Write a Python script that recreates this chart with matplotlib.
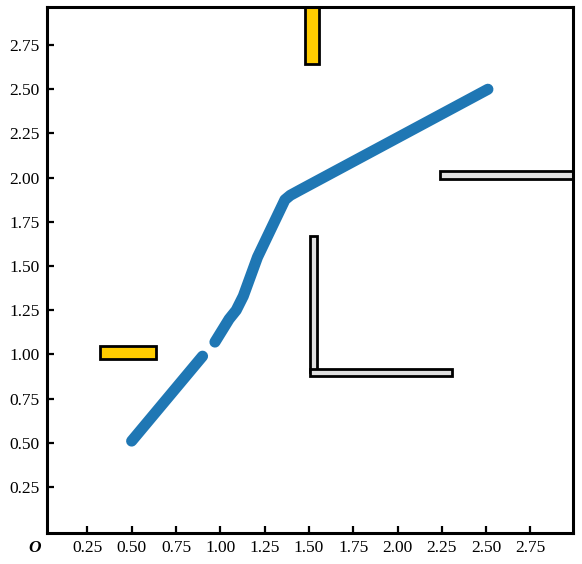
import numpy as np
import matplotlib.pyplot as plt
from matplotlib.patches import Rectangle

# Path of the robot (two pieces, with a small gap)
path_a_x = [0.50, 0.90]
path_a_y = [0.51, 0.99]
path_b_x = [0.97, 1.05, 1.09, 1.13, 1.21, 1.365, 1.395, 1.45, 2.51]
path_b_y = [1.07, 1.20, 1.25, 1.33, 1.55, 1.875, 1.90, 1.93, 2.50]

# Obstacles: (x, y, width, height)
yellow_obs = [(0.32, 0.975, 0.32, 0.07),
              (1.48, 2.645, 0.075, 0.40)]
gray_obs   = [(1.505, 0.90, 0.04, 0.77),
              (1.505, 0.88, 0.80, 0.04),
              (2.24, 1.995, 0.85, 0.04)]

ticks = [0.25, 0.50, 0.75, 1.00, 1.25, 1.50, 1.75, 2.00, 2.25, 2.50, 2.75]
tick_labels = ["%.2f" % t for t in ticks]

plt.rcParams["font.family"] = ["Liberation Serif", "DejaVu Serif"]

fig = plt.figure(figsize=(5.82, 5.64), dpi=100)
ax = fig.add_axes([0.080, 0.055, 0.9045, 0.9325])

for (x, y, w, h) in yellow_obs:
    ax.add_patch(Rectangle((x, y), w, h, facecolor="#ffcc00", edgecolor="black", lw=2, zorder=2))
for (x, y, w, h) in gray_obs:
    ax.add_patch(Rectangle((x, y), w, h, facecolor="#e0e0e0", edgecolor="black", lw=2, zorder=2))

ax.plot(path_a_x, path_a_y, color="#1f77b4", lw=8, solid_capstyle="round", solid_joinstyle="round", zorder=3)
ax.plot(path_b_x, path_b_y, color="#1f77b4", lw=8, solid_capstyle="round", solid_joinstyle="round", zorder=3)

ax.set_xlim(0.02, 2.99)
ax.set_ylim(-0.01, 2.965)

ax.set_xticks(ticks)
ax.set_xticklabels(tick_labels)
ax.set_yticks(ticks)
ax.set_yticklabels(tick_labels)
ax.tick_params(direction="in", length=5, width=1.6, labelsize=12.5, pad=5)

for s in ax.spines.values():
    s.set_linewidth(2.2)

fig.text(35 / 582, 1 - 548 / 564, "O", fontsize=12.5, fontweight="bold", fontstyle="italic",
         ha="center", va="center")

plt.savefig("out.png", dpi=100)
plt.close()
